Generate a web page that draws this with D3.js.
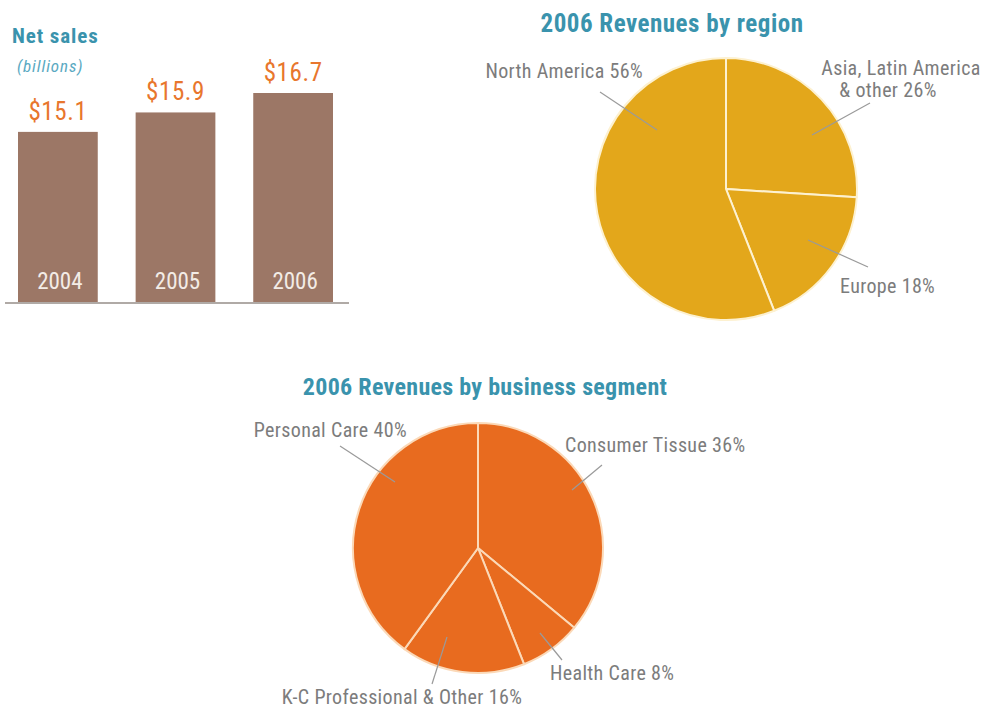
<!DOCTYPE html>
<html><head><meta charset="utf-8">
<script src="https://cdn.jsdelivr.net/npm/d3@7"></script>
<style>
html,body{margin:0;padding:0;background:#fff;}
svg{display:block;}
text{font-family:"Roboto Condensed","Liberation Sans Narrow","Arial Narrow",Roboto,sans-serif;}
</style></head>
<body>
<script>
// ---- data ----
const years = ["2004", "2005", "2006"];
const netSales = [15.1, 15.9, 16.7];
const salesLabels = ["$15.1", "$15.9", "$16.7"];

const regions = ["Asia, Latin America & other", "Europe", "North America"];
const regionShares = [26, 18, 56];

const segments = ["Consumer Tissue", "Health Care", "K-C Professional & Other", "Personal Care"];
const segmentShares = [36, 8, 16, 40];

const W = 984, H = 709;
const svg = d3.select("body").append("svg").attr("width", W).attr("height", H);

const teal = "#3a93ad", orange = "#e8762d", grayText = "#7c7c7c", leader = "#9a9a9a";

// ---- bar chart ----
const x = d3.scaleBand().domain(years).range([18, 333]).paddingInner(0.322).paddingOuter(0);
const y = d3.scaleLinear().domain([8.1, 16.7]).range([302, 93]);

const bars = svg.append("g");
svg.append("text").attr("x", 12).attr("y", 43).attr("fill", teal)
  .attr("font-size", 21).attr("font-weight", "bold").attr("letter-spacing", 0.9).text("Net sales");
svg.append("text").attr("x", 17).attr("y", 72).attr("fill", "#5aa9c2")
  .attr("font-size", 17).attr("font-style", "italic").attr("letter-spacing", 0.9).text("(billions)");

bars.selectAll("rect").data(netSales).join("rect")
  .attr("x", (d, i) => x(years[i])).attr("width", x.bandwidth())
  .attr("y", d => y(d)).attr("height", d => y.range()[0] - y(d))
  .attr("fill", "#9c7766");
bars.selectAll("text.val").data(netSales).join("text").attr("class", "val")
  .attr("x", (d, i) => x(years[i]) + x.bandwidth() / 2).attr("y", d => y(d) - 12)
  .attr("text-anchor", "middle").attr("fill", orange).attr("font-size", 25).attr("letter-spacing", 0.6)
  .text((d, i) => salesLabels[i]);
bars.selectAll("text.yr").data(years).join("text").attr("class", "yr")
  .attr("x", d => x(d) + x.bandwidth() / 2 + 2).attr("y", 289)
  .attr("text-anchor", "middle").attr("fill", "#f3ece6").attr("font-size", 23)
  .text(d => d);
svg.append("line").attr("x1", 5).attr("x2", 349).attr("y1", 303).attr("y2", 303)
  .attr("stroke", "#b0aaa6").attr("stroke-width", 2);

// ---- pie helper ----
function drawPie(cx, cy, r, values, fill, sep) {
  const pie = d3.pie().sort(null).startAngle(0).endAngle(2 * Math.PI);
  const arc = d3.arc().innerRadius(0).outerRadius(r);
  const g = svg.append("g").attr("transform", `translate(${cx},${cy})`);
  g.selectAll("path").data(pie(values)).join("path")
    .attr("d", arc).attr("fill", fill).attr("stroke", sep).attr("stroke-width", 2)
    .attr("stroke-linejoin", "round");
  return g;
}
function leaderLine(x1, y1, x2, y2) {
  svg.append("line").attr("x1", x1).attr("y1", y1).attr("x2", x2).attr("y2", y2)
    .attr("stroke", leader).attr("stroke-width", 1.2);
}
function label(xp, yp, txt, anchor) {
  return svg.append("text").attr("x", xp).attr("y", yp).attr("fill", grayText)
    .attr("font-size", 20).attr("letter-spacing", 0.35).attr("text-anchor", anchor || "start").text(txt);
}

// ---- pie 1: regions ----
svg.append("text").attr("x", 672).attr("y", 32).attr("text-anchor", "middle")
  .attr("fill", teal).attr("font-size", 25).attr("font-weight", "bold").attr("letter-spacing", 0.5)
  .text("2006 Revenues by region");
drawPie(726, 189, 131, regionShares, "#e3a71b", "#fdf1d0");
label(643, 78, `${regions[2]} ${regionShares[2]}%`, "end");
leaderLine(600, 92, 657, 130);
const asia = svg.append("text").attr("fill", grayText).attr("font-size", 20).attr("letter-spacing", 0.35)
  .attr("text-anchor", "middle");
asia.append("tspan").attr("x", 901).attr("y", 75).text("Asia, Latin America");
asia.append("tspan").attr("x", 888).attr("y", 97).text(`& other ${regionShares[0]}%`);
leaderLine(870, 103, 812, 135);
label(840, 293, `${regions[1]} ${regionShares[1]}%`);
leaderLine(868, 267, 808, 240);

// ---- pie 2: segments ----
svg.append("text").attr("x", 485).attr("y", 395).attr("text-anchor", "middle")
  .attr("fill", teal).attr("font-size", 24).attr("font-weight", "bold").attr("letter-spacing", 0.3)
  .text("2006 Revenues by business segment");
drawPie(478, 548, 125, segmentShares, "#e86b1f", "#fbd9b8");
label(407, 437, `${segments[3]} ${segmentShares[3]}%`, "end");
leaderLine(340, 446, 395, 482);
label(565, 452, `${segments[0]} ${segmentShares[0]}%`);
leaderLine(602, 465, 572, 490);
label(550, 680, `${segments[1]} ${segmentShares[1]}%`);
leaderLine(562, 660, 540, 633);
label(402, 704, `${segments[2]} ${segmentShares[2]}%`, "middle");
leaderLine(432, 684, 447, 637);
</script>
</body></html>
